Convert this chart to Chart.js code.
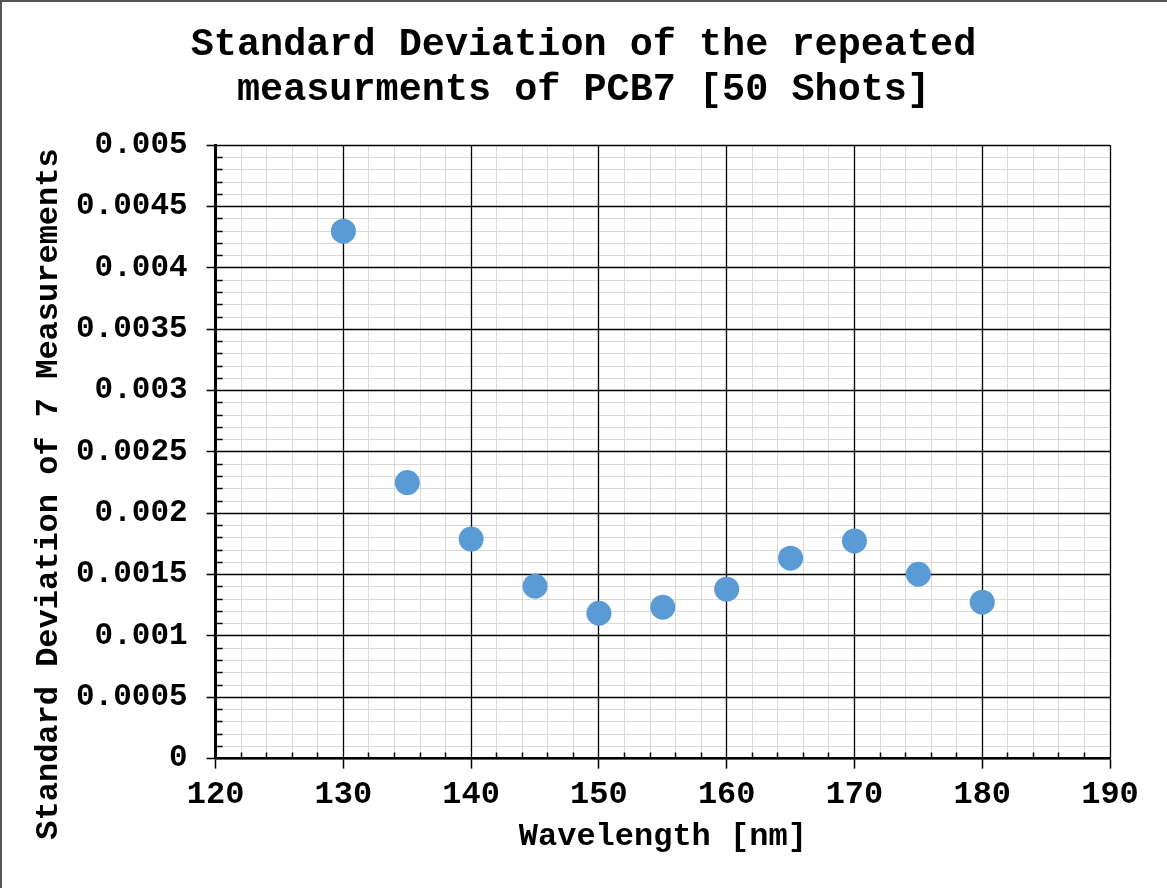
<!DOCTYPE html>
<html>
<head>
<meta charset="utf-8">
<script src="https://cdn.jsdelivr.net/npm/chart.js@4.4.1/dist/chart.umd.min.js"></script>
<style>
  html, body { margin: 0; padding: 0; background: #fff; }
  #wrap { width: 1167px; height: 888px; }
</style>
</head>
<body>
<div id="wrap"><canvas id="chart" width="1167" height="888"></canvas></div>
<script>
const wavelengths = [130, 135, 140, 145, 150, 155, 160, 165, 170, 175, 180];
const stdDevs = [0.0043, 0.00225, 0.00179, 0.001405, 0.001185, 0.001234, 0.001381, 0.001634, 0.001775, 0.001503, 0.001275];

const titleLines = ['Standard Deviation of the repeated', 'measurments of PCB7 [50 Shots]'];
const xAxisTitle = 'Wavelength [nm]';
const yAxisTitle = 'Standard Deviation of 7 Measurements';

const FONT = "'Liberation Mono', 'Courier New', monospace";
const MINOR_GRID = '#d9d9d9';

const isMajorX = (v) => Math.round(v) % 10 === 0;
const isMajorY = (v) => Math.round(v * 10000) % 5 === 0;

// same snapping Chart.js uses for 1px grid lines
const snap = (p) => Math.round(p - 0.5) + 0.5;

// major grid lines go back on top of the grey minor ones,
// then inward minor ticks, outer frame lines and the rotated y title
const extras = {
  id: 'extras',
  beforeDatasetsDraw(chart) {
    const { ctx, chartArea } = chart;
    const xs = chart.scales.x, ys = chart.scales.y;
    ctx.save();
    ctx.strokeStyle = '#000';
    ctx.lineWidth = 1.3;
    ctx.beginPath();
    xs.ticks.forEach((t) => {
      if (!isMajorX(t.value)) return;
      const px = snap(xs.getPixelForValue(t.value));
      ctx.moveTo(px, chartArea.top);
      ctx.lineTo(px, chartArea.bottom);
    });
    ys.ticks.forEach((t) => {
      if (!isMajorY(t.value)) return;
      const py = snap(ys.getPixelForValue(t.value));
      ctx.moveTo(chartArea.left, py);
      ctx.lineTo(chartArea.right, py);
    });
    ctx.stroke();
    ctx.restore();
  },
  afterDraw(chart) {
    const { ctx, chartArea } = chart;
    const xs = chart.scales.x, ys = chart.scales.y;
    ctx.save();
    ctx.strokeStyle = '#000';
    ctx.lineWidth = 1.5;
    ctx.beginPath();
    xs.ticks.forEach((t) => {
      if (isMajorX(t.value)) return;
      const px = snap(xs.getPixelForValue(t.value));
      ctx.moveTo(px, chartArea.bottom);
      ctx.lineTo(px, chartArea.bottom - 6);
    });
    ys.ticks.forEach((t) => {
      if (isMajorY(t.value)) return;
      const py = snap(ys.getPixelForValue(t.value));
      ctx.moveTo(chartArea.left, py);
      ctx.lineTo(chartArea.left + 7, py);
    });
    ctx.stroke();

    // frame along the top and left edge
    ctx.strokeStyle = '#555';
    ctx.lineWidth = 2;
    ctx.beginPath();
    ctx.moveTo(0, 1);
    ctx.lineTo(chart.width, 1);
    ctx.moveTo(1, 0);
    ctx.lineTo(1, chart.height);
    ctx.stroke();

    ctx.translate(49, 494);
    ctx.rotate(-Math.PI / 2);
    ctx.fillStyle = '#000';
    ctx.font = 'bold 32px ' + FONT;
    ctx.textAlign = 'center';
    ctx.textBaseline = 'middle';
    ctx.fillText(yAxisTitle, 0, 0);
    ctx.restore();
  }
};

new Chart(document.getElementById('chart'), {
  type: 'scatter',
  data: {
    datasets: [{
      data: wavelengths.map((w, i) => ({ x: w, y: stdDevs[i] })),
      backgroundColor: '#5b9bd5',
      borderWidth: 0,
      pointRadius: 12.5,
      pointHoverRadius: 12.5
    }]
  },
  options: {
    responsive: false,
    animation: false,
    events: [],
    layout: { padding: { left: 57, right: 57, top: 0, bottom: 30 } },
    plugins: {
      legend: { display: false },
      tooltip: { enabled: false },
      title: {
        display: true,
        text: titleLines,
        color: '#000',
        font: { family: FONT, size: 38.5, weight: 'bold', lineHeight: 1.16 },
        padding: { top: 23, bottom: 33 }
      }
    },
    scales: {
      x: {
        type: 'linear',
        min: 120,
        max: 190,
        ticks: {
          stepSize: 2,
          autoSkip: false,
          maxRotation: 0,
          padding: 7,
          color: '#000',
          font: { family: FONT, size: 32, weight: 'bold' },
          callback: (v) => (isMajorX(v) ? String(v) : '')
        },
        grid: {
          color: (c) => (c.tick && isMajorX(c.tick.value) ? '#000' : MINOR_GRID),
          lineWidth: 1,
          tickColor: (c) => (c.tick && isMajorX(c.tick.value) ? '#000' : 'rgba(0,0,0,0)'),
          tickLength: 10,
          tickWidth: 1.5
        },
        border: { display: true, color: '#000', width: 2.5 },
        title: {
          display: true,
          text: xAxisTitle,
          color: '#000',
          font: { family: FONT, size: 32, weight: 'bold', lineHeight: 1 },
          padding: { top: 0, bottom: 5 }
        }
      },
      y: {
        type: 'linear',
        min: 0,
        max: 0.005,
        ticks: {
          stepSize: 0.0001,
          autoSkip: false,
          padding: 19,
          color: '#000',
          font: { family: FONT, size: 31, weight: 'bold' },
          callback: (v) => (isMajorY(v) ? String(+v.toFixed(4)) : '')
        },
        grid: {
          color: (c) => (c.tick && isMajorY(c.tick.value) ? '#000' : MINOR_GRID),
          lineWidth: 1,
          tickColor: (c) => (c.tick && isMajorY(c.tick.value) ? '#000' : 'rgba(0,0,0,0)'),
          tickLength: 9,
          tickWidth: 1.5
        },
        border: { display: true, color: '#000', width: 3 }
      }
    }
  },
  plugins: [extras]
});
</script>
</body>
</html>
